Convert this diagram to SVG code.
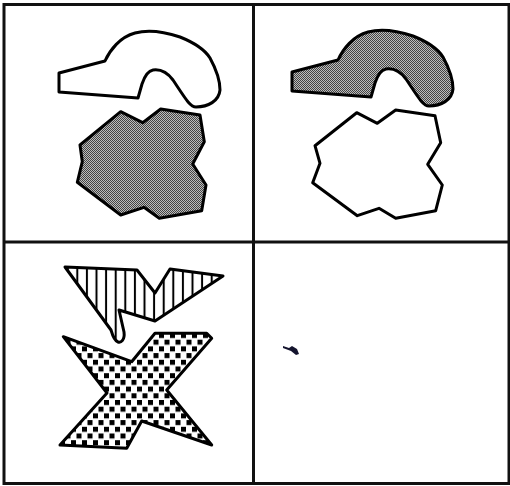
<svg xmlns="http://www.w3.org/2000/svg" width="510" height="486" viewBox="0 0 510 486">
  <defs>
    <pattern id="dots" patternUnits="userSpaceOnUse" width="2" height="2">
      <rect width="2" height="2" fill="#bdbdbd"/>
      <rect x="0" y="0" width="1" height="1" fill="#444"/>
      <rect x="1" y="1" width="1" height="1" fill="#444"/>
    </pattern>
    <pattern id="vhatch" patternUnits="userSpaceOnUse" x="72.5" y="0" width="9.6" height="10">
      <rect width="9.6" height="10" fill="#fff"/>
      <rect x="3.8" y="0" width="2" height="10" fill="#000"/>
    </pattern>
    <pattern id="checks" patternUnits="userSpaceOnUse" x="60" y="333" width="11" height="13.4">
      <rect width="11" height="13.4" fill="#fff"/>
      <rect x="0" y="0" width="5" height="5" fill="#000"/>
      <rect x="5.5" y="6.7" width="5" height="5" fill="#000"/>
    </pattern>
  </defs>
  <style>
    .frame { fill: none; stroke: #111; stroke-width: 3; }
    .shape { stroke: #000; stroke-width: 3; stroke-linejoin: round; }
  </style>
  <rect width="510" height="486" fill="#fff"/>

  <g id="frame">
    <rect class="frame" x="4" y="4.5" width="505" height="479"/>
    <line class="frame" x1="253.5" y1="4.5" x2="253.5" y2="483.5"/>
    <line class="frame" x1="4" y1="242" x2="509" y2="242"/>
  </g>

  <g id="blob-white-tl">
    <path class="shape" fill="#fff" d="M59,73 L105,61 C110,50 120,37 135,33 C150,29 165,32 180,37 C195,43 205,50 210,58 C216,69 220,80 220,90 C219,101 208,107 196,107 C190,107 185,98 173,80 C167,72 160,69 153,70 C147,71 144,78 142,84 L138,98 L59,92 Z"/>
  </g>
  <g id="poly-gray-tl">
    <polygon class="shape" fill="url(#dots)" points="120.7,111.7 142.7,122.7 160.7,109 200,115 204.3,141.7 192.7,164 206,185 201.7,210.7 159.3,218.3 144,207.3 120.7,215 77.3,182.3 82.3,161.7 80,145"/>
  </g>

  <g id="blob-gray-tr">
    <path class="shape" fill="url(#dots)" transform="translate(233,-1)" d="M59,73 L105,61 C110,50 120,37 135,33 C150,29 165,32 180,37 C195,43 205,50 210,58 C216,69 220,80 220,90 C219,101 208,107 196,107 C190,107 185,98 173,80 C167,72 160,69 153,70 C147,71 144,78 142,84 L138,98 L59,92 Z"/>
  </g>
  <g id="poly-white-tr">
    <polygon class="shape" fill="#fff" points="356.7,112.7 377.3,123.3 395.7,110 435,115.7 440.7,142.7 427.7,164.3 442.3,185 435.7,210.7 395.7,218.3 379,208.3 357.3,215.7 312.7,182.7 320,163.3 315,145.7"/>
  </g>

  <g id="hatched-bl">
    <path class="shape" fill="url(#vhatch)" d="M65,267 L137,270 L155,293 L170,269 L223,276 L155,321 L119,310 L124,332 C125,340 121,343 118,342 C115,341 113,337 111,330 Z"/>
  </g>
  <g id="checked-x-bl">
    <polygon class="shape" fill="url(#checks)" points="63.3,336.7 131.7,361.7 155,333.3 206.7,333.3 211.7,338.3 166.7,390 211.7,445 141.7,421 126.7,448.3 60,445 107,393"/>
  </g>

  <g id="mark-br">
    <path d="M283,346 L289,348 L292,346 L297,349 L299,354 L296,355 L291,351 L283,348 Z" fill="#14142e"/>
  </g>
</svg>
